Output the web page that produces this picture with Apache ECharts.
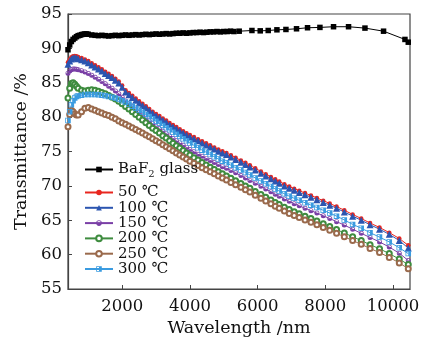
<!DOCTYPE html>
<html>
<head>
<meta charset="utf-8">
<script src="https://cdn.jsdelivr.net/npm/echarts@6/dist/echarts.min.js"></script>
<style>
  html, body { margin: 0; padding: 0; background: #fff; }
  #chart { width: 427px; height: 344px; }
</style>
</head>
<body>
<div id="chart"></div>
<script>
// Wavelength grid (nm) for the reference BaF2 glass spectrum
const baf2Wavelengths = [
  400, 450, 500, 550, 600, 650, 700, 750, 800, 850, 900, 950,
  1000, 1100, 1200, 1300, 1400, 1500, 1600, 1700, 1800, 1900,
  2000, 2100, 2200, 2300, 2400, 2500, 2600, 2700, 2800, 2900,
  3000, 3100, 3200, 3300, 3400, 3500, 3600, 3700, 3800, 3900,
  4000, 4100, 4200, 4300, 4400, 4500, 4600, 4700, 4800, 4900,
  5000, 5100, 5200, 5300,
  5456, 5832, 6077, 6313, 6570, 6836, 7149, 7474, 7840, 8242, 8685, 9170, 9719, 10351, 10449
];
// Transmittance (%) of BaF2 glass
const baf2Glass = [
  89.8, 90.5, 91.0, 91.3, 91.5, 91.7, 91.85, 91.9, 92.0, 92.05, 92.1, 92.1,
  92.05, 91.95, 91.9, 91.85, 91.9, 91.85, 91.8, 91.85, 91.9, 91.85,
  91.9, 91.95, 91.9, 91.95, 92.0, 91.95, 92.0, 92.05, 92.0, 92.05,
  92.1, 92.05, 92.1, 92.15, 92.1, 92.15, 92.2, 92.2, 92.25, 92.2,
  92.25, 92.3, 92.3, 92.35, 92.3, 92.35, 92.4, 92.4, 92.45, 92.4,
  92.45, 92.45, 92.5, 92.45,
  92.5, 92.6, 92.55, 92.6, 92.7, 92.75, 92.85, 93.0, 93.05, 93.15, 93.15, 92.95, 92.5, 91.3, 90.9
];

// Wavelength grid (nm) for the heat-treated samples
const wavelengths = [
  400, 450, 500, 550, 600, 650, 700, 800, 900, 1000,
  1100, 1200, 1300, 1400, 1500, 1600, 1700, 1800, 1900, 2000,
  2100, 2200, 2300, 2400, 2500, 2600, 2700, 2800, 2900, 3000,
  3100, 3200, 3300, 3400, 3500, 3600, 3700, 3800, 3900, 4000,
  4120, 4240, 4360, 4480, 4600, 4720, 4840, 4960, 5080, 5211,
  5350, 5506, 5640, 5772, 5930, 6097, 6240, 6392, 6520, 6638,
  6790, 6933, 7080, 7229, 7400, 7575, 7750, 7938, 8130, 8331,
  8560, 8806, 9060, 9320, 9600, 9888, 10183, 10449
];

const t50 = [
  88.0, 88.4, 88.7, 88.85, 88.9, 88.85, 88.75, 88.6, 88.4, 88.15,
  87.85, 87.55, 87.25, 86.95, 86.6, 86.3, 86.0, 85.6, 85.2, 84.6,
  83.9, 83.5, 83.1, 82.7, 82.3, 81.95, 81.6, 81.2, 80.8, 80.45,
  80.15, 79.8, 79.5, 79.15, 78.85, 78.55, 78.25, 77.95, 77.65, 77.4,
  77.1, 76.8, 76.5, 76.2, 75.9, 75.6, 75.3, 75.05, 74.8, 74.45,
  74.1, 73.7, 73.35, 73.0, 72.55, 72.1, 71.7, 71.3, 70.95, 70.65,
  70.25, 69.9, 69.6, 69.3, 68.95, 68.6, 68.25, 67.85, 67.45, 67.0,
  66.45, 65.85, 65.25, 64.6, 63.95, 63.2, 62.35, 61.35
];
const t100 = [
  87.7, 88.15, 88.45, 88.6, 88.65, 88.6, 88.5, 88.35, 88.15, 87.9,
  87.6, 87.3, 87.0, 86.7, 86.35, 86.05, 85.75, 85.35, 84.95, 84.35,
  83.65, 83.25, 82.85, 82.45, 82.05, 81.7, 81.35, 80.95, 80.55, 80.2,
  79.9, 79.55, 79.25, 78.9, 78.6, 78.3, 78.0, 77.7, 77.4, 77.15,
  76.85, 76.55, 76.25, 75.95, 75.65, 75.35, 75.05, 74.8, 74.55, 74.2,
  73.85, 73.45, 73.1, 72.75, 72.3, 71.85, 71.45, 71.05, 70.7, 70.4,
  70.0, 69.65, 69.35, 69.05, 68.7, 68.35, 68.0, 67.6, 67.2, 66.75,
  66.2, 65.6, 65.0, 64.35, 63.7, 62.95, 62.05, 60.95
];
const t150 = [
  86.4, 86.7, 86.9, 87.0, 87.0, 86.95, 86.9, 86.75, 86.55, 86.35,
  86.1, 85.8, 85.5, 85.2, 84.85, 84.5, 84.2, 83.8, 83.4, 82.9,
  82.35, 81.9, 81.5, 81.05, 80.65, 80.25, 79.85, 79.45, 79.05, 78.65,
  78.3, 77.95, 77.6, 77.25, 76.9, 76.55, 76.25, 75.9, 75.6, 75.3,
  74.95, 74.6, 74.3, 74.0, 73.7, 73.4, 73.1, 72.8, 72.55, 72.25,
  71.9, 71.5, 71.15, 70.8, 70.4, 69.95, 69.55, 69.15, 68.8, 68.5,
  68.1, 67.75, 67.4, 67.1, 66.75, 66.4, 66.05, 65.65, 65.25, 64.8,
  64.3, 63.7, 63.1, 62.5, 61.85, 61.1, 60.2, 59.15
];
const t200 = [
  82.8, 84.2, 84.9, 85.0, 84.8, 84.5, 84.2, 83.9, 83.8, 83.9,
  84.0, 83.9, 83.75, 83.6, 83.4, 83.15, 82.9, 82.65, 82.3, 81.95,
  81.55, 81.2, 80.8, 80.4, 80.0, 79.6, 79.2, 78.8, 78.4, 78.05,
  77.7, 77.3, 76.95, 76.55, 76.2, 75.85, 75.5, 75.15, 74.8, 74.5,
  74.1, 73.75, 73.4, 73.05, 72.7, 72.4, 72.05, 71.75, 71.45, 71.1,
  70.75, 70.35, 70.0, 69.65, 69.2, 68.75, 68.35, 67.95, 67.6, 67.3,
  66.9, 66.55, 66.25, 65.95, 65.6, 65.25, 64.9, 64.5, 64.1, 63.65,
  63.15, 62.6, 62.05, 61.45, 60.85, 60.15, 59.35, 58.55
];
const t250 = [
  78.6, 80.4, 81.0, 80.8, 80.5, 80.3, 80.3, 80.8, 81.3, 81.4,
  81.2, 81.0, 80.8, 80.6, 80.4, 80.25, 80.0, 79.75, 79.45, 79.2,
  78.95, 78.7, 78.45, 78.2, 77.95, 77.7, 77.4, 77.15, 76.85, 76.55,
  76.3, 76.0, 75.7, 75.4, 75.1, 74.8, 74.5, 74.2, 73.9, 73.6,
  73.3, 72.95, 72.65, 72.35, 72.05, 71.75, 71.45, 71.15, 70.85, 70.5,
  70.15, 69.8, 69.45, 69.1, 68.65, 68.2, 67.8, 67.4, 67.05, 66.75,
  66.35, 66.0, 65.7, 65.4, 65.05, 64.7, 64.35, 63.95, 63.55, 63.1,
  62.6, 62.05, 61.5, 60.9, 60.3, 59.6, 58.8, 57.95
];
const t300 = [
  79.5, 80.8, 81.8, 82.4, 82.8, 83.0, 83.1, 83.2, 83.3, 83.3,
  83.3, 83.3, 83.25, 83.2, 83.1, 83.0, 82.9, 82.8, 82.6, 82.4,
  82.15, 81.9, 81.6, 81.3, 81.0, 80.7, 80.4, 80.1, 79.75, 79.4,
  79.1, 78.8, 78.45, 78.15, 77.8, 77.5, 77.2, 76.85, 76.55, 76.25,
  75.9, 75.55, 75.2, 74.9, 74.55, 74.25, 73.9, 73.6, 73.35, 73.0,
  72.65, 72.3, 71.95, 71.6, 71.15, 70.7, 70.3, 69.9, 69.55, 69.25,
  68.85, 68.5, 68.2, 67.9, 67.55, 67.2, 66.85, 66.45, 66.05, 65.6,
  65.05, 64.4, 63.85, 63.2, 62.55, 61.85, 61.0, 60.15
];

const xTickValues = [2000, 4000, 6000, 8000, 10000];
const sampleNames = ['50 ℃', '100 ℃', '150 ℃', '200 ℃', '250 ℃', '300 ℃'];
const baf2Name = 'BaF2 glass';

// half-filled marker shapes (outer ring with a hollow half)
const halfCircle = 'path://M0,5 A5,5 0 1,1 10,5 A5,5 0 1,1 0,5 Z M8.6,5 A3.6,3.6 0 0,0 1.4,5 Z';
const halfSquare = 'path://M0,0 H10 V10 H0 Z M1.4,1.4 V8.6 H5 V1.4 Z';

const FONT = 'DejaVu Serif';

function pairs(xs, ys) {
  return xs.map((x, i) => [x, ys[i]]);
}

function lineSeries(name, xs, ys, color, symbol, size, borderWidth) {
  return {
    name: name,
    type: 'line',
    data: pairs(xs, ys),
    symbol: symbol,
    symbolSize: size,
    showAllSymbol: true,
    animation: false,
    lineStyle: { color: color, width: 1 },
    itemStyle: { color: color, borderColor: color, borderWidth: borderWidth || 0 },
    emphasis: { disabled: true }
  };
}

const chart = echarts.init(document.getElementById('chart'), null, { renderer: 'canvas' });

chart.setOption({
  backgroundColor: '#fff',
  textStyle: { fontFamily: FONT, color: '#111' },
  grid: {
    left: 68, right: 17, top: 14, bottom: 55,
    show: true, borderColor: '#444', borderWidth: 1.2
  },
  xAxis: {
    type: 'value',
    min: 400, max: 10500,
    name: 'Wavelength /nm',
    nameLocation: 'middle',
    nameGap: 29,
    nameTextStyle: { fontFamily: FONT, fontSize: 17.5, color: '#111' },
    axisLine: { lineStyle: { color: '#444', width: 1.2 } },
    axisTick: { inside: true, length: 4, customValues: xTickValues, lineStyle: { color: '#444' } },
    axisLabel: {
      customValues: xTickValues, fontFamily: FONT, fontSize: 16.5, color: '#111', margin: 9,
      formatter: v => String(v)
    },
    splitLine: { show: false }
  },
  yAxis: {
    type: 'value',
    min: 55, max: 95, interval: 5,
    name: 'Transmittance /%',
    nameLocation: 'middle',
    nameGap: 36,
    nameTextStyle: { fontFamily: FONT, fontSize: 17.5, color: '#111' },
    axisLine: { lineStyle: { color: '#444', width: 1.2 } },
    axisTick: { inside: true, length: 4, lineStyle: { color: '#444' } },
    axisLabel: { fontFamily: FONT, fontSize: 16.5, color: '#111', margin: 6 },
    splitLine: { show: false }
  },
  legend: [
    {
      data: [baf2Name],
      left: 79, top: 157,
      itemWidth: 28, itemHeight: 7,
      itemGap: 0,
      formatter: () => 'BaF{s|2} glass',
      textStyle: {
        fontFamily: FONT, fontSize: 15, color: '#111',
        rich: { s: { fontFamily: FONT, fontSize: 10, padding: [9, 0, 0, 0] } }
      }
    },
    {
      data: sampleNames,
      orient: 'vertical',
      left: 79, top: 180,
      itemWidth: 28, itemHeight: 7,
      itemGap: 0.3,
      textStyle: { fontFamily: FONT, fontSize: 15, color: '#111' }
    }
  ],
  series: [
    lineSeries(baf2Name, baf2Wavelengths, baf2Glass, '#000000', 'rect', 5.5),
    lineSeries(sampleNames[0], wavelengths, t50, '#e8261f', 'circle', 4.5),
    lineSeries(sampleNames[1], wavelengths, t100, '#2b55b0', 'triangle', 7),
    lineSeries(sampleNames[2], wavelengths, t150, '#7a3fa6', halfCircle, 5),
    lineSeries(sampleNames[3], wavelengths, t200, '#3e8c3f', 'emptyCircle', 5, 0.8),
    lineSeries(sampleNames[4], wavelengths, t250, '#9a6a4c', 'emptyCircle', 5, 0.8),
    lineSeries(sampleNames[5], wavelengths, t300, '#3a9be0', halfSquare, 5.5)
  ]
});
</script>
</body>
</html>
